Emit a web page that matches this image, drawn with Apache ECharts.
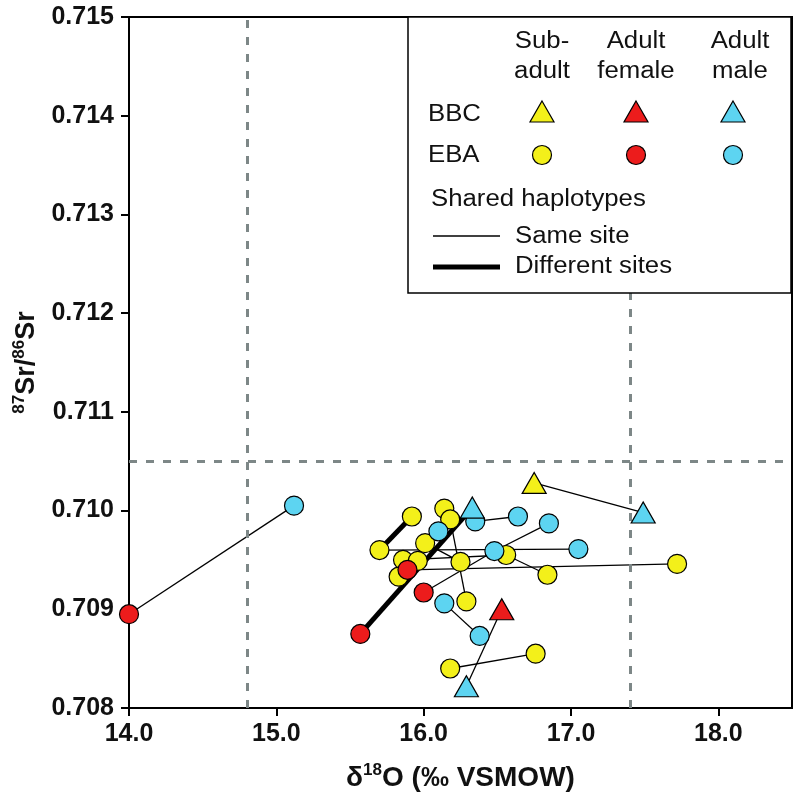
<!DOCTYPE html>
<html><head><meta charset="utf-8">
<script src="https://cdn.jsdelivr.net/npm/echarts@6/dist/echarts.min.js"></script>
<style>html,body{margin:0;padding:0;background:#fff}#c{width:793px;height:793px}</style>
</head><body><div id="c"></div>
<script>
// ---- data ----
const xTicks = [14, 15, 16, 17, 18];
const yTicks = [0.708, 0.709, 0.710, 0.711, 0.712, 0.713, 0.714, 0.715];
const refX = [14.8, 17.4];
const refY = [0.7105];

const bbcSubadult = [[16.75, 0.71028]];
const bbcFemale = [[16.53, 0.70900]];
const bbcMale = [[17.49, 0.70998], [16.33, 0.71003], [16.29, 0.70822]];

const ebaSubadult = [
  [15.92, 0.70994], [15.70, 0.70960], [16.14, 0.71002], [16.18, 0.70991],
  [16.01, 0.70967], [15.86, 0.70950], [15.96, 0.70949], [15.83, 0.70933],
  [16.25, 0.70948], [16.29, 0.70908], [16.56, 0.70955], [16.84, 0.70935],
  [17.72, 0.70946], [16.18, 0.70840], [16.76, 0.70855]
];
const ebaFemale = [[14.00, 0.70895], [15.57, 0.70875], [15.89, 0.70940], [16.00, 0.70917]];
const ebaMale = [
  [15.12, 0.71005], [16.35, 0.70989], [16.64, 0.70994], [16.85, 0.70987],
  [16.48, 0.70959], [17.05, 0.70961], [16.10, 0.70979], [16.14, 0.70906],
  [16.38, 0.70873]
];

// shared haplotype links: [group, index, group, index]
const sameSiteLinks = [
  ['EF', 0, 'EM', 0], ['BS', 0, 'BM', 0], ['EM', 1, 'EM', 2], ['EM', 3, 'EM', 4],
  ['EF', 3, 'EM', 4], ['ES', 10, 'ES', 11], ['EF', 2, 'ES', 12], ['ES', 4, 'ES', 8],
  ['ES', 3, 'ES', 9], ['EM', 7, 'EM', 8], ['ES', 13, 'ES', 14], ['BM', 2, 'BF', 0],
  ['ES', 1, 'EM', 5], ['ES', 5, 'ES', 10]
];
const diffSiteLinks = [['ES', 1, 'ES', 0], ['EF', 1, 'BM', 1]];

// ---- build ----
const groups = { BS: bbcSubadult, BF: bbcFemale, BM: bbcMale, ES: ebaSubadult, EF: ebaFemale, EM: ebaMale };
const pt = (g, i) => groups[g][i];
const toLines = arr => arr.map(l => ({ coords: [pt(l[0], l[1]), pt(l[2], l[3])] }));

const YEL = '#f3f01a', RED = '#ec1c1c', BLU = '#5dd4f1';
const FONT = '"Liberation Sans", Arial, sans-serif';
const CIRC = 19, TRI = [24, 21];

function scatter(name, data, symbol, color, size) {
  return {
    name, type: 'scatter', data, symbol, symbolSize: size, clip: false, z: 5,
    itemStyle: { color, borderColor: '#000', borderWidth: 1.2, opacity: 1 },
    silent: true
  };
}

const chart = echarts.init(document.getElementById('c'), null, { renderer: 'canvas' });

const legendX = [542, 636, 733];
const lgText = (text, x, y, align) => ({
  type: 'text', x, y, z: 101, scaleX: 1.12,
  style: { text, font: '23px ' + FONT, fill: '#111', align: align || 'center', verticalAlign: 'middle' }
});
const tri = (x, y, color) => ({
  type: 'polygon', z: 101,
  shape: { points: [[x, y - 11], [x + 12, y + 10], [x - 12, y + 10]] },
  style: { fill: color, stroke: '#000', lineWidth: 1.2 }
});
const circ = (x, y, color) => ({
  type: 'circle', z: 101, shape: { cx: x, cy: y, r: 9.5 },
  style: { fill: color, stroke: '#000', lineWidth: 1.2 }
});

const option = {
  animation: false,
  backgroundColor: '#fff',
  grid: { left: 129, top: 17, right: 1, bottom: 85, show: true, borderColor: '#000', borderWidth: 2,
    backgroundColor: 'transparent', containLabel: false, outerBoundsMode: 'none' },
  xAxis: {
    type: 'value', min: 14, max: 18.5, interval: 1,
    axisLine: { lineStyle: { color: '#000', width: 2 } },
    axisTick: { show: true, length: 8, lineStyle: { color: '#000', width: 2 }, customValues: xTicks },
    axisLabel: { customValues: xTicks, formatter: v => v.toFixed(1), fontSize: 25, fontWeight: 'bold', color: '#111', fontFamily: FONT, margin: 14 },
    splitLine: { show: false },
    name: '{b|δ}{s|18}{b|O (‰ VSMOW)}', nameLocation: 'middle', nameGap: 54,
    nameTextStyle: {
      rich: {
        b: { fontSize: 28, fontWeight: 'bold', fontFamily: FONT, color: '#111', lineHeight: 32 },
        s: { fontSize: 17, fontWeight: 'bold', fontFamily: FONT, color: '#111', lineHeight: 19, verticalAlign: 'top' }
      }
    }
  },
  yAxis: {
    type: 'value', min: 0.708, max: 0.715, interval: 0.001,
    axisLine: { lineStyle: { color: '#000', width: 2 } },
    axisTick: { show: true, length: 8, lineStyle: { color: '#000', width: 2 } },
    axisLabel: { formatter: v => v.toFixed(3), fontSize: 25, fontWeight: 'bold', color: '#111', fontFamily: FONT, margin: 15 },
    splitLine: { show: false },
    name: '{s|87}{b|Sr/}{s|86}{b|Sr}', nameLocation: 'middle', nameGap: 86,
    nameTextStyle: {
      rich: {
        b: { fontSize: 27, fontWeight: 'bold', fontFamily: FONT, color: '#111', lineHeight: 32 },
        s: { fontSize: 17, fontWeight: 'bold', fontFamily: FONT, color: '#111', lineHeight: 19, verticalAlign: 'top' }
      }
    }
  },
  series: [
    {
      name: 'ref', type: 'scatter', data: [], z: 1, silent: true,
      markLine: {
        silent: true, symbol: 'none', label: { show: false }, animation: false, precision: 6,
        lineStyle: { color: '#7d8787', width: 3, type: [8, 9] },
        data: refX.map(v => ({ xAxis: v })).concat(refY.map(v => ({ yAxis: v })))
      }
    },
    {
      name: 'Same site', type: 'lines', coordinateSystem: 'cartesian2d', z: 3, silent: true,
      lineStyle: { color: '#000', width: 1.3, opacity: 1, curveness: 0 },
      data: toLines(sameSiteLinks)
    },
    {
      name: 'Different sites', type: 'lines', coordinateSystem: 'cartesian2d', z: 3, silent: true,
      lineStyle: { color: '#000', width: 5, opacity: 1, curveness: 0 },
      data: toLines(diffSiteLinks)
    },
    scatter('EBA sub-adult', ebaSubadult, 'circle', YEL, CIRC),
    scatter('EBA adult female', ebaFemale, 'circle', RED, CIRC),
    scatter('EBA adult male', ebaMale, 'circle', BLU, CIRC),
    scatter('BBC sub-adult', bbcSubadult, 'triangle', YEL, TRI),
    scatter('BBC adult female', bbcFemale, 'triangle', RED, TRI),
    scatter('BBC adult male', bbcMale, 'triangle', BLU, TRI)
  ],
  graphic: [
    { type: 'rect', z: 100, shape: { x: 408, y: 17, width: 383, height: 276 },
      style: { fill: '#fff', stroke: '#000', lineWidth: 1.5 } },
    lgText('Sub-', legendX[0], 42), lgText('adult', legendX[0], 72),
    lgText('Adult', 636, 42), lgText('female', 636, 72),
    lgText('Adult', 740, 42), lgText('male', 740, 72),
    lgText('BBC', 428, 115, 'left'), lgText('EBA', 428, 156, 'left'),
    tri(legendX[0], 112, YEL), tri(legendX[1], 112, RED), tri(legendX[2], 112, BLU),
    circ(legendX[0], 155, YEL), circ(legendX[1], 155, RED), circ(legendX[2], 155, BLU),
    lgText('Shared haplotypes', 431, 200, 'left'),
    { type: 'line', z: 101, shape: { x1: 433, y1: 236, x2: 500, y2: 236 }, style: { stroke: '#000', lineWidth: 1.3 } },
    lgText('Same site', 515, 237, 'left'),
    { type: 'line', z: 101, shape: { x1: 433, y1: 267, x2: 500, y2: 267 }, style: { stroke: '#000', lineWidth: 5 } },
    lgText('Different sites', 515, 267, 'left')
  ]
};
chart.setOption(option);
</script>
</body></html>
